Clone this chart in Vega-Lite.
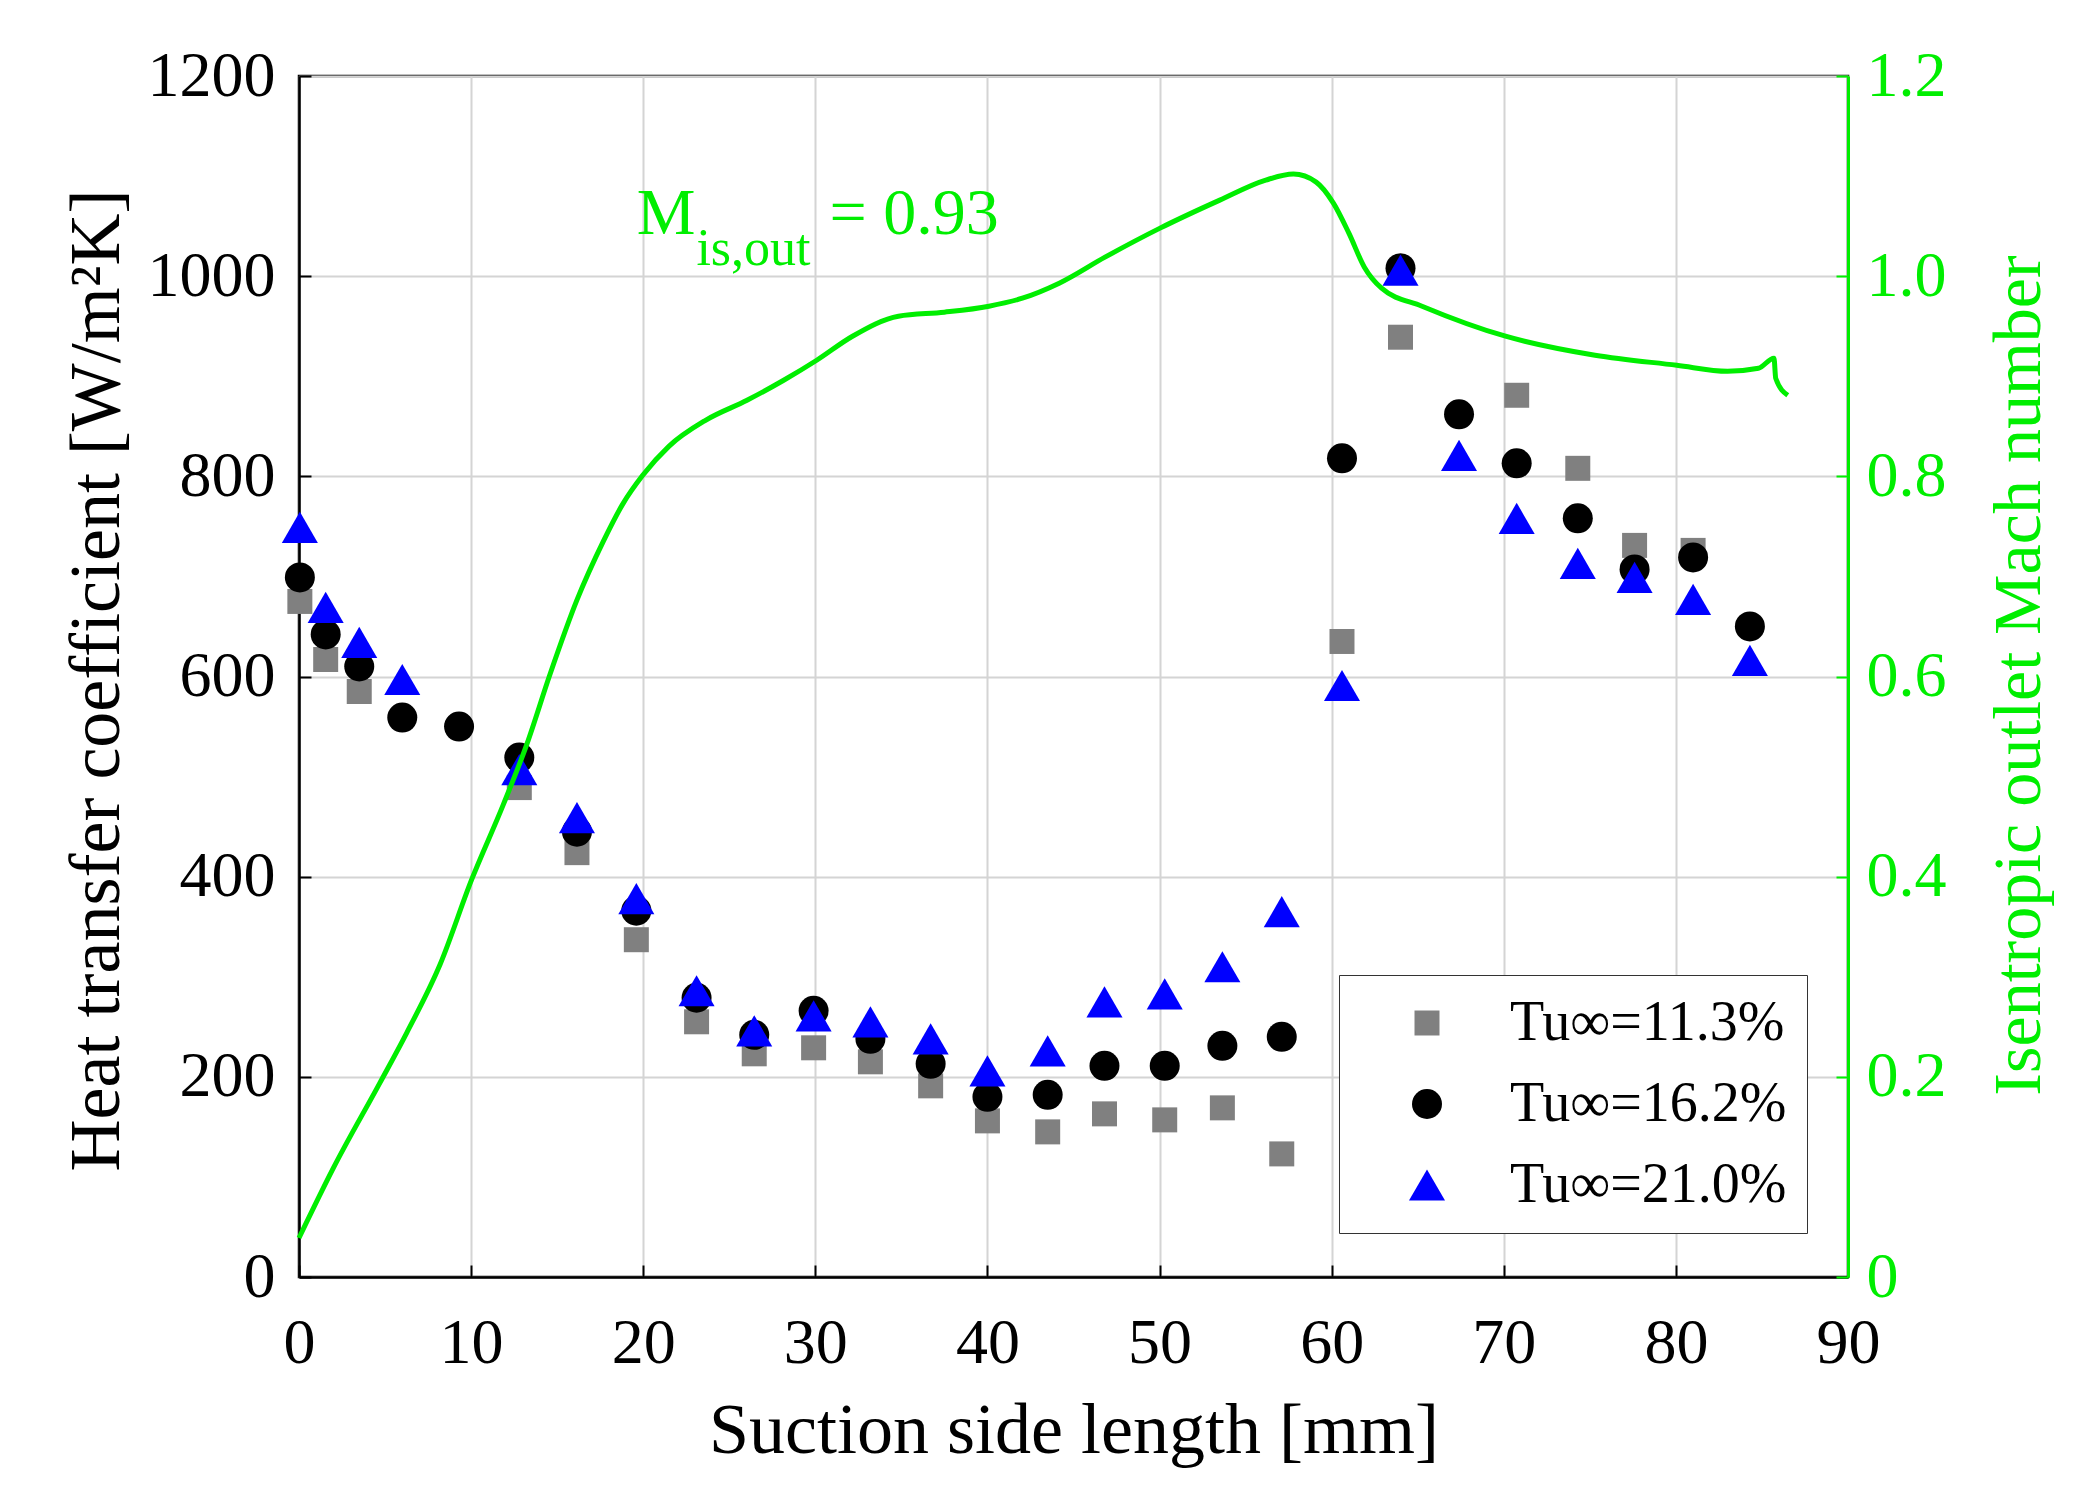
{
  "$schema": "https://vega.github.io/schema/vega-lite/v6.json",
  "width": 1549,
  "height": 1201,
  "autosize": {"type": "none"},
  "padding": {"left": 299, "top": 76, "right": 248, "bottom": 223},
  "background": "white",
  "datasets": {
    "htc": [
      {"tu": "Tu∞=11.3%", "s": 0.05, "h": 675},
      {"tu": "Tu∞=11.3%", "s": 1.55, "h": 617},
      {"tu": "Tu∞=11.3%", "s": 3.5, "h": 585},
      {"tu": "Tu∞=11.3%", "s": 12.8, "h": 489},
      {"tu": "Tu∞=11.3%", "s": 16.15, "h": 424},
      {"tu": "Tu∞=11.3%", "s": 19.6, "h": 337},
      {"tu": "Tu∞=11.3%", "s": 23.1, "h": 255},
      {"tu": "Tu∞=11.3%", "s": 26.45, "h": 223},
      {"tu": "Tu∞=11.3%", "s": 29.9, "h": 229},
      {"tu": "Tu∞=11.3%", "s": 33.2, "h": 215},
      {"tu": "Tu∞=11.3%", "s": 36.7, "h": 191},
      {"tu": "Tu∞=11.3%", "s": 40.0, "h": 156},
      {"tu": "Tu∞=11.3%", "s": 43.5, "h": 145},
      {"tu": "Tu∞=11.3%", "s": 46.8, "h": 163},
      {"tu": "Tu∞=11.3%", "s": 50.3, "h": 157},
      {"tu": "Tu∞=11.3%", "s": 53.65, "h": 169},
      {"tu": "Tu∞=11.3%", "s": 57.1, "h": 123},
      {"tu": "Tu∞=11.3%", "s": 60.6, "h": 635},
      {"tu": "Tu∞=11.3%", "s": 64.0, "h": 939},
      {"tu": "Tu∞=11.3%", "s": 70.75, "h": 881},
      {"tu": "Tu∞=11.3%", "s": 74.3, "h": 808},
      {"tu": "Tu∞=11.3%", "s": 77.6, "h": 731},
      {"tu": "Tu∞=11.3%", "s": 81.0, "h": 726},
      {"tu": "Tu∞=16.2%", "s": 0.05, "h": 699},
      {"tu": "Tu∞=16.2%", "s": 1.55, "h": 642},
      {"tu": "Tu∞=16.2%", "s": 3.5, "h": 610},
      {"tu": "Tu∞=16.2%", "s": 6.0, "h": 559},
      {"tu": "Tu∞=16.2%", "s": 9.3, "h": 550},
      {"tu": "Tu∞=16.2%", "s": 12.8, "h": 519},
      {"tu": "Tu∞=16.2%", "s": 16.15, "h": 445},
      {"tu": "Tu∞=16.2%", "s": 19.6, "h": 366},
      {"tu": "Tu∞=16.2%", "s": 23.1, "h": 279},
      {"tu": "Tu∞=16.2%", "s": 26.45, "h": 242},
      {"tu": "Tu∞=16.2%", "s": 29.9, "h": 266},
      {"tu": "Tu∞=16.2%", "s": 33.2, "h": 238},
      {"tu": "Tu∞=16.2%", "s": 36.7, "h": 213},
      {"tu": "Tu∞=16.2%", "s": 40.0, "h": 180},
      {"tu": "Tu∞=16.2%", "s": 43.5, "h": 182},
      {"tu": "Tu∞=16.2%", "s": 46.8, "h": 211},
      {"tu": "Tu∞=16.2%", "s": 50.3, "h": 211},
      {"tu": "Tu∞=16.2%", "s": 53.65, "h": 231},
      {"tu": "Tu∞=16.2%", "s": 57.1, "h": 240},
      {"tu": "Tu∞=16.2%", "s": 60.6, "h": 818},
      {"tu": "Tu∞=16.2%", "s": 64.0, "h": 1008},
      {"tu": "Tu∞=16.2%", "s": 67.4, "h": 862},
      {"tu": "Tu∞=16.2%", "s": 70.75, "h": 813},
      {"tu": "Tu∞=16.2%", "s": 74.3, "h": 758},
      {"tu": "Tu∞=16.2%", "s": 77.6, "h": 707},
      {"tu": "Tu∞=16.2%", "s": 81.0, "h": 719},
      {"tu": "Tu∞=16.2%", "s": 84.3, "h": 650},
      {"tu": "Tu∞=21.0%", "s": 0.05, "h": 749},
      {"tu": "Tu∞=21.0%", "s": 1.55, "h": 669},
      {"tu": "Tu∞=21.0%", "s": 3.5, "h": 634},
      {"tu": "Tu∞=21.0%", "s": 6.0, "h": 597},
      {"tu": "Tu∞=21.0%", "s": 12.8, "h": 507},
      {"tu": "Tu∞=21.0%", "s": 16.15, "h": 459},
      {"tu": "Tu∞=21.0%", "s": 19.6, "h": 378},
      {"tu": "Tu∞=21.0%", "s": 23.1, "h": 286},
      {"tu": "Tu∞=21.0%", "s": 26.45, "h": 246},
      {"tu": "Tu∞=21.0%", "s": 29.9, "h": 261},
      {"tu": "Tu∞=21.0%", "s": 33.2, "h": 255},
      {"tu": "Tu∞=21.0%", "s": 36.7, "h": 238},
      {"tu": "Tu∞=21.0%", "s": 40.0, "h": 206},
      {"tu": "Tu∞=21.0%", "s": 43.5, "h": 226},
      {"tu": "Tu∞=21.0%", "s": 46.8, "h": 275},
      {"tu": "Tu∞=21.0%", "s": 50.3, "h": 283},
      {"tu": "Tu∞=21.0%", "s": 53.65, "h": 310},
      {"tu": "Tu∞=21.0%", "s": 57.1, "h": 365},
      {"tu": "Tu∞=21.0%", "s": 60.6, "h": 591},
      {"tu": "Tu∞=21.0%", "s": 64.0, "h": 1006},
      {"tu": "Tu∞=21.0%", "s": 67.4, "h": 821},
      {"tu": "Tu∞=21.0%", "s": 70.75, "h": 758},
      {"tu": "Tu∞=21.0%", "s": 74.3, "h": 713},
      {"tu": "Tu∞=21.0%", "s": 77.6, "h": 699},
      {"tu": "Tu∞=21.0%", "s": 81.0, "h": 677},
      {"tu": "Tu∞=21.0%", "s": 84.3, "h": 616}
    ],
    "mach": [
      {"s": 0, "m": 0.039},
      {"s": 2.0, "m": 0.109},
      {"s": 4.7, "m": 0.194},
      {"s": 6.26, "m": 0.244},
      {"s": 8.19, "m": 0.312},
      {"s": 10.03, "m": 0.397},
      {"s": 11.87, "m": 0.472},
      {"s": 13.23, "m": 0.532},
      {"s": 14.58, "m": 0.602},
      {"s": 16.14, "m": 0.676},
      {"s": 17.68, "m": 0.735},
      {"s": 18.8, "m": 0.772},
      {"s": 19.97, "m": 0.801},
      {"s": 21.49, "m": 0.83},
      {"s": 23.62, "m": 0.856},
      {"s": 26.03, "m": 0.876},
      {"s": 28.16, "m": 0.896},
      {"s": 30.08, "m": 0.916},
      {"s": 32.16, "m": 0.94},
      {"s": 34.83, "m": 0.96},
      {"s": 37.5, "m": 0.964},
      {"s": 40.09, "m": 0.97},
      {"s": 42.03, "m": 0.978},
      {"s": 44.17, "m": 0.993},
      {"s": 46.83, "m": 1.019},
      {"s": 50.03, "m": 1.048},
      {"s": 53.5, "m": 1.076},
      {"s": 56.17, "m": 1.096},
      {"s": 57.78, "m": 1.102},
      {"s": 59.1, "m": 1.094},
      {"s": 60.1, "m": 1.073},
      {"s": 61.0, "m": 1.043},
      {"s": 61.9, "m": 1.009},
      {"s": 62.9, "m": 0.988},
      {"s": 65.25, "m": 0.97},
      {"s": 70.1, "m": 0.94},
      {"s": 75.3, "m": 0.921},
      {"s": 80.05, "m": 0.911},
      {"s": 83.0, "m": 0.905},
      {"s": 84.8, "m": 0.908},
      {"s": 85.7, "m": 0.918},
      {"s": 85.8, "m": 0.898},
      {"s": 86.5, "m": 0.881}
    ],
    "note": [{"label": "M"}]
  },
  "layer": [
    {
      "layer": [
        {
          "data": {"name": "htc"},
          "mark": {"type": "point", "filled": true, "opacity": 1, "strokeWidth": 0},
          "encoding": {
            "x": {
              "field": "s",
              "type": "quantitative",
              "scale": {"domain": [0, 90], "nice": false},
              "axis": {
                "title": "Suction side length [mm]",
                "values": [0, 10, 20, 30, 40, 50, 60, 70, 80, 90],
                "labelFlush": false,
                "labelOverlap": false,
                "titleBaseline": "alphabetic",
                "titleY": 175,
                "labelPadding": 46
              }
            },
            "y": {
              "field": "h",
              "type": "quantitative",
              "scale": {"domain": [0, 1200], "nice": false},
              "axis": {
                "title": "Heat transfer coefficient [W/m²K]",
                "values": [0, 200, 400, 600, 800, 1000, 1200],
                "format": "d",
                "labelFlush": false,
                "labelOverlap": false,
                "titleAngle": -90,
                "titleBaseline": "alphabetic",
                "titleX": -181,
                "titleY": 604,
                "labelPadding": 36
              }
            },
            "color": {
              "field": "tu",
              "type": "nominal",
              "scale": {
                "domain": ["Tu∞=11.3%", "Tu∞=16.2%", "Tu∞=21.0%"],
                "range": ["#808080", "#000000", "#0000ff"]
              },
              "legend": {
                "title": null,
                "orient": "none",
                "legendX": 1040,
                "legendY": 899,
                "direction": "vertical",
                "fillColor": "white",
                "strokeColor": "#333333",
                "padding": 20,
                "symbolOffset": 40,
                "labelOffset": 55,
                "rowPadding": 25,
                "labelFont": "Liberation Serif",
                "labelFontSize": 56,
                "labelColor": "black",
                "labelLimit": 600,
                "symbolStrokeWidth": 0,
                "symbolOpacity": 1
              }
            },
            "shape": {
              "field": "tu",
              "type": "nominal",
              "scale": {
                "domain": ["Tu∞=11.3%", "Tu∞=16.2%", "Tu∞=21.0%"],
                "range": ["square", "circle", "triangle-up"]
              }
            },
            "size": {
              "field": "tu",
              "type": "nominal",
              "scale": {
                "type": "ordinal",
                "domain": ["Tu∞=11.3%", "Tu∞=16.2%", "Tu∞=21.0%"],
                "range": [625, 900, 1300]
              }
            }
          }
        },
        {
          "data": {"name": "note"},
          "mark": {"type": "text", "font": "Liberation Serif", "fontSize": 66, "fill": "#00ee00", "align": "left", "baseline": "alphabetic"},
          "encoding": {
            "x": {"datum": 19.62, "type": "quantitative"},
            "y": {"datum": 1042, "type": "quantitative"},
            "text": {"value": "M"}
          }
        },
        {
          "data": {"name": "note"},
          "mark": {"type": "text", "font": "Liberation Serif", "fontSize": 52, "fill": "#00ee00", "align": "left", "baseline": "alphabetic"},
          "encoding": {
            "x": {"datum": 23.09, "type": "quantitative"},
            "y": {"datum": 1011, "type": "quantitative"},
            "text": {"value": "is,out"}
          }
        },
        {
          "data": {"name": "note"},
          "mark": {"type": "text", "font": "Liberation Serif", "fontSize": 66, "fill": "#00ee00", "align": "left", "baseline": "alphabetic"},
          "encoding": {
            "x": {"datum": 30.83, "type": "quantitative"},
            "y": {"datum": 1042, "type": "quantitative"},
            "text": {"value": "= 0.93"}
          }
        }
      ]
    },
    {
      "data": {"name": "mach"},
      "mark": {"type": "line", "color": "#00ee00", "strokeWidth": 5, "interpolate": "monotone"},
      "encoding": {
        "x": {"field": "s", "type": "quantitative"},
        "y": {
          "field": "m",
          "type": "quantitative",
          "scale": {"domain": [0, 1.2], "nice": false},
          "axis": {
            "orient": "right",
            "title": "Isentropic outlet Mach number",
            "values": [0, 0.2, 0.4, 0.6, 0.8, 1.0, 1.2],
            "labelExpr": "datum.value == 0 ? '0' : format(datum.value, '.1f')",
            "labelFlush": false,
            "labelOverlap": false,
            "grid": false,
            "domainColor": "#00ee00",
            "domainWidth": 3,
            "tickColor": "#00ee00",
            "labelColor": "#00ee00",
            "titleColor": "#00ee00",
            "titleFontSize": 68,
            "titleAngle": -90,
            "titleBaseline": "alphabetic",
            "titleX": 191,
            "titleY": 599,
            "labelPadding": 30
          }
        }
      }
    }
  ],
  "resolve": {"scale": {"y": "independent"}},
  "config": {
    "view": {"stroke": "black", "strokeWidth": 2.5},
    "axis": {
      "labelFont": "Liberation Serif",
      "labelFontSize": 64,
      "labelColor": "black",
      "titleFont": "Liberation Serif",
      "titleFontSize": 72,
      "titleFontWeight": "normal",
      "titleColor": "black",
      "domainColor": "black",
      "domainWidth": 2.5,
      "tickColor": "black",
      "tickWidth": 2,
      "tickSize": -12,
      "grid": true,
      "gridColor": "#d4d4d4",
      "gridWidth": 2,
      "labelLimit": 400
    }
  }
}
